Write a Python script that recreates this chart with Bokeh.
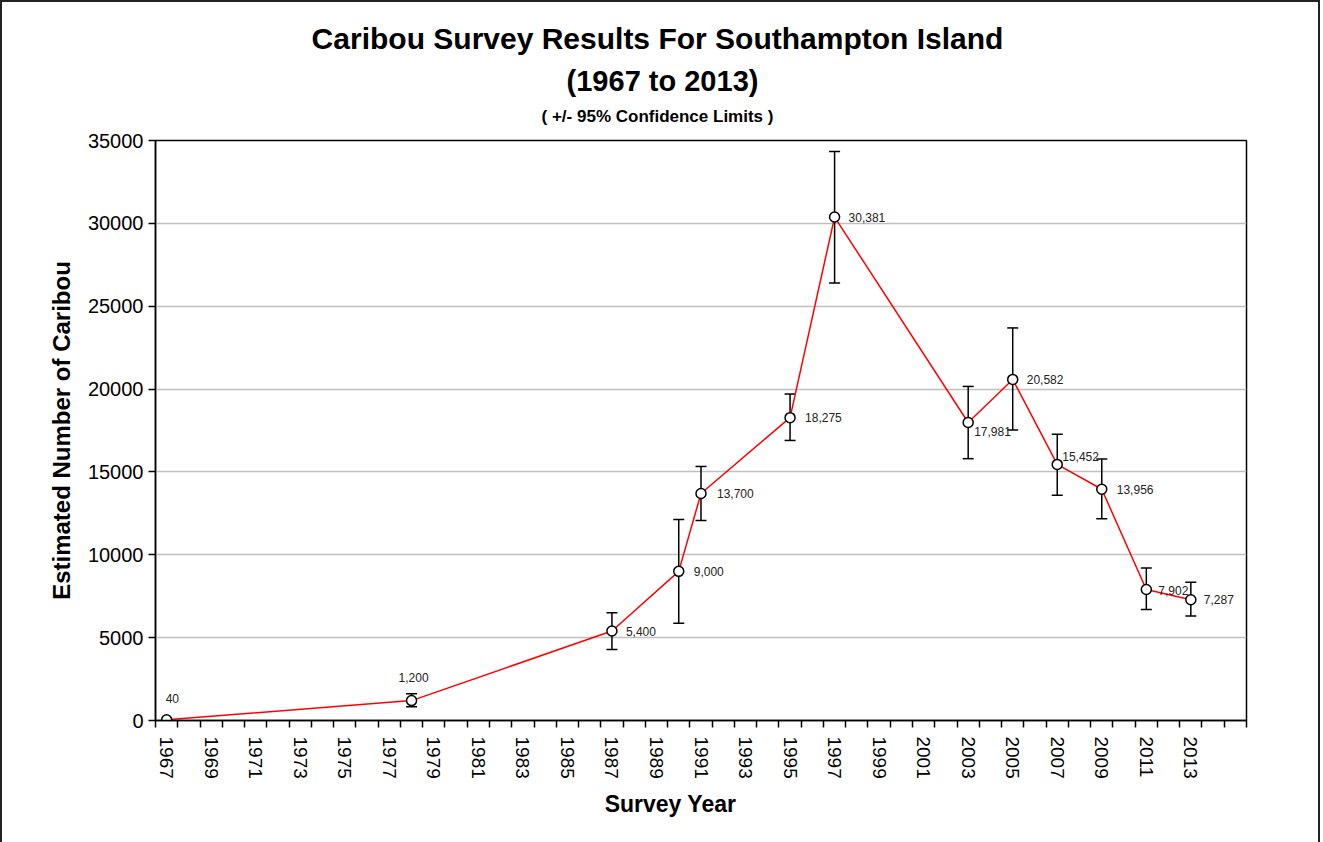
import math
from bokeh.plotting import figure
from bokeh.layouts import column
from bokeh.models import ColumnDataSource, FixedTicker, Range1d, BasicTickFormatter
from bokeh.core.properties import value
from bokeh.embed import file_html
from bokeh.resources import INLINE

# ---- data ----
years = [1967, 1978, 1987, 1990, 1991, 1995, 1997, 2003, 2005, 2007, 2009, 2011, 2013]
estimate = [40, 1200, 5400, 9000, 13700, 18275, 30381, 17981, 20582, 15452, 13956, 7902, 7287]
lower_cl = [math.nan, 830, 4280, 5870, 12070, 16900, 26400, 15800, 17530, 13600, 12170, 6700, 6300]
upper_cl = [math.nan, 1620, 6500, 12130, 15330, 19700, 34340, 20160, 23690, 17280, 15780, 9210, 8350]
value_labels = ["40", "1,200", "5,400", "9,000", "13,700", "18,275", "30,381",
                "17,981", "20,582", "15,452", "13,956", "7,902", "7,287"]
x_tick_years = list(range(1967, 2014, 2))
year_slots = list(range(1967, 2016))
y_ticks = [0, 5000, 10000, 15000, 20000, 25000, 30000, 35000]

title_lines = ["Caribou Survey Results For Southampton Island",
               "(1967 to 2013)",
               "( +/- 95% Confidence Limits )"]
x_title = "Survey Year"
y_title = "Estimated Number of Caribou"

# label placement offsets in pixels (style)
lab_dx = [-1, -13, 14, 15, 16, 15, 14, 6, 14, 5, 15, 12, 13]
lab_dy = [-21, -23, 0, 0, 0, 0, 0, 9, 0, -8, 0, 1, 0]

FONT = "Liberation Sans"
BORDER = 2
W = 1320 - 2 * BORDER
FRAME_L, FRAME_R = 155, 1246            # page x of the plot frame
HEAD_H = 123                            # page y 2..125
MAIN_H = 660                            # page y 125..785
FOOT_H = 842 - BORDER - HEAD_H - MAIN_H  # page y 785..840

src = ColumnDataSource(dict(x=years, y=estimate, lo=lower_cl, hi=upper_cl,
                            txt=value_labels, dx=lab_dx, dy=lab_dy))


def blank_fig(h, top_page):
    # frames of a column are aligned, so x maps to page x over the plot frame
    f = figure(width=W, height=h, output_backend="svg", toolbar_location=None,
               x_range=Range1d(FRAME_L, FRAME_R), y_range=Range1d(top_page + h, top_page),
               x_axis_type=None, y_axis_type=None, min_border=0,
               min_border_left=0, min_border_right=0, min_border_top=0, min_border_bottom=0)
    f.outline_line_color = None
    f.grid.visible = False
    f.background_fill_color = "white"
    f.border_fill_color = "white"
    return f


# ---- header with the three title lines ----
head = blank_fig(HEAD_H, BORDER)
head.text(x=[657, 662, 657], y=[38, 80, 116], text=title_lines,
          text_font=value(FONT), text_font_style="bold",
          text_font_size=["30px", "29px", "17px"], text_color="black",
          text_align="center", text_baseline="middle")

# ---- main plot ----
p = figure(width=W, height=MAIN_H, output_backend="svg", toolbar_location=None,
           x_range=Range1d(year_slots[0] - 0.5, year_slots[-1] + 0.5),
           y_range=Range1d(0, 35000),
           min_border_left=FRAME_L - BORDER, min_border_right=BORDER + W - FRAME_R,
           min_border_top=15, min_border_bottom=65)
p.background_fill_color = "white"
p.border_fill_color = "white"
p.outline_line_color = "black"
p.outline_line_width = 1.5

p.xgrid.visible = False
p.ygrid.grid_line_color = "#c0c0c0"
p.ygrid.grid_line_width = 1.5
p.ygrid.ticker = FixedTicker(ticks=y_ticks)

xa = p.xaxis[0]
xa.ticker = FixedTicker(ticks=x_tick_years,
                        minor_ticks=[s - 0.5 for s in year_slots] + [year_slots[-1] + 0.5])
xa.formatter = BasicTickFormatter(use_scientific=False)
xa.major_tick_line_color = None
xa.major_tick_out = 0
xa.major_tick_in = 0
xa.minor_tick_line_color = "black"
xa.minor_tick_line_width = 1.5
xa.minor_tick_out = 7
xa.minor_tick_in = 0
xa.major_label_orientation = "vertical"
xa.major_label_standoff = 9
xa.major_label_text_font = FONT
xa.major_label_text_font_size = "19px"
xa.major_label_text_color = "black"
xa.axis_line_color = "black"
xa.axis_line_width = 1.5

ya = p.yaxis[0]
ya.ticker = FixedTicker(ticks=y_ticks)
ya.formatter = BasicTickFormatter(use_scientific=False)
ya.major_tick_line_color = "black"
ya.major_tick_line_width = 1.5
ya.major_tick_out = 7
ya.major_tick_in = 0
ya.minor_tick_line_color = None
ya.major_label_standoff = 5
ya.major_label_text_font = FONT
ya.major_label_text_font_size = "20px"
ya.major_label_text_color = "black"
ya.axis_line_color = "black"
ya.axis_line_width = 1.5
ya.axis_label = y_title
ya.axis_label_text_font = FONT
ya.axis_label_text_font_style = "bold"
ya.axis_label_text_font_size = "24px"
ya.axis_label_text_color = "black"
ya.axis_label_standoff = 10

# error bars
p.segment(x0="x", y0="lo", x1="x", y1="hi", source=src, line_color="black", line_width=1.5)
p.scatter(x="x", y="lo", source=src, marker="dash", size=11, line_color="black", line_width=1.5)
p.scatter(x="x", y="hi", source=src, marker="dash", size=11, line_color="black", line_width=1.5)

# series
p.line(x="x", y="y", source=src, line_color="#ff0000", line_width=1.5)
p.scatter(x="x", y="y", source=src, marker="circle", size=10, fill_color="white",
          line_color="black", line_width=1.5)

p.text(x="x", y="y", text="txt", source=src, x_offset="dx", y_offset="dy",
       text_font=value(FONT), text_font_size="12px", text_color="#222",
       text_align="left", text_baseline="middle")

# ---- footer with x-axis title ----
foot = blank_fig(FOOT_H, BORDER + HEAD_H + MAIN_H)
foot.text(x=[670], y=[803], text=[x_title], text_font=value(FONT), text_font_style="bold",
          text_font_size="23px", text_color="black", text_align="center", text_baseline="middle")

layout = column(head, p, foot, spacing=0,
                styles={"border-style": "solid", "border-color": "#222",
                        "border-width": "2px 2px 0 2px"})

open("out.html", "w").write(file_html(layout, INLINE))
